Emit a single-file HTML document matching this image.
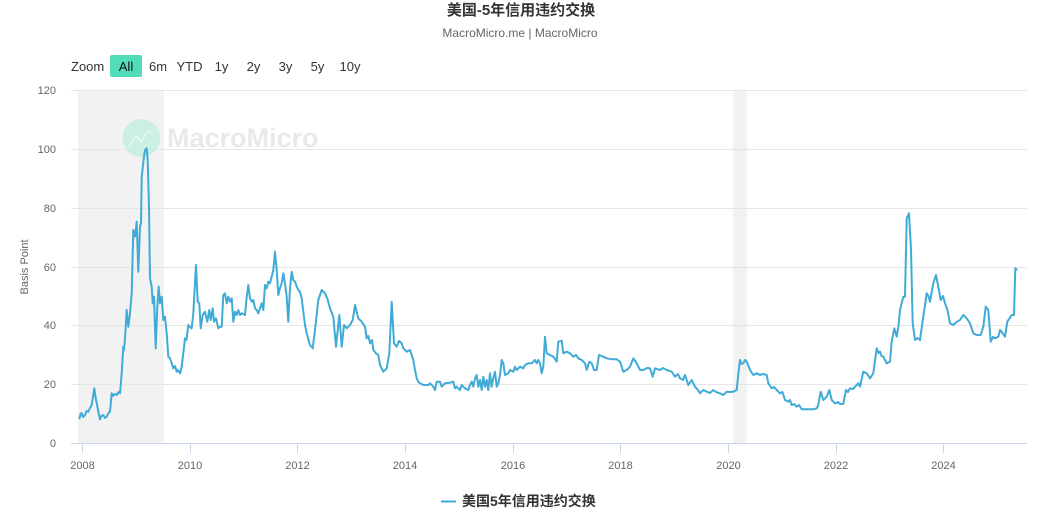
<!DOCTYPE html>
<html><head><meta charset="utf-8">
<style>
html,body{margin:0;padding:0;background:#fff;}
body{width:1042px;height:522px;overflow:hidden;position:relative;font-family:"Liberation Sans","Noto Sans CJK SC",sans-serif;}
svg{position:absolute;left:0;top:0;}
</style></head>
<body>
<svg width="1042" height="522" viewBox="0 0 1042 522" xmlns="http://www.w3.org/2000/svg">
<text x="521" y="15" text-anchor="middle" font-family="Liberation Sans, Noto Sans CJK SC, sans-serif" font-size="15" font-weight="bold" fill="#333">美国-5年信用违约交换</text>
<text x="520" y="37" text-anchor="middle" font-family="Liberation Sans, sans-serif" font-size="12" fill="#666">MacroMicro.me | MacroMicro</text>

<!-- zoom buttons -->
<g font-family="Liberation Sans, sans-serif" font-size="13" fill="#333">
<text x="71" y="71">Zoom</text>
<rect x="110" y="55" width="32" height="22" rx="2" fill="#52dcb9"/>
<text x="126" y="71" text-anchor="middle" fill="#111">All</text>
<text x="158" y="71" text-anchor="middle">6m</text>
<text x="189.5" y="71" text-anchor="middle">YTD</text>
<text x="221.5" y="71" text-anchor="middle">1y</text>
<text x="253.5" y="71" text-anchor="middle">2y</text>
<text x="285.5" y="71" text-anchor="middle">3y</text>
<text x="317.5" y="71" text-anchor="middle">5y</text>
<text x="350" y="71" text-anchor="middle">10y</text>
</g>

<!-- bands -->
<rect x="78" y="90" width="86" height="353" fill="#f2f2f2"/>
<rect x="733" y="90" width="14" height="353" fill="#f2f2f2"/>

<!-- gridlines -->
<g stroke="#e6e6e6" stroke-width="1">
<line x1="71" x2="1027" y1="90.5" y2="90.5"/>
<line x1="71" x2="1027" y1="149.5" y2="149.5"/>
<line x1="71" x2="1027" y1="208.5" y2="208.5"/>
<line x1="71" x2="1027" y1="267.5" y2="267.5"/>
<line x1="71" x2="1027" y1="325.5" y2="325.5"/>
<line x1="71" x2="1027" y1="384.5" y2="384.5"/>
</g>
<line x1="71" x2="1027" y1="443.5" y2="443.5" stroke="#ccd6eb" stroke-width="1"/>
<g stroke="#ccd6eb" stroke-width="1">
<line x1="82.5" x2="82.5" y1="443" y2="453"/>
<line x1="190.5" x2="190.5" y1="443" y2="453"/>
<line x1="297.5" x2="297.5" y1="443" y2="453"/>
<line x1="405.5" x2="405.5" y1="443" y2="453"/>
<line x1="513.5" x2="513.5" y1="443" y2="453"/>
<line x1="620.5" x2="620.5" y1="443" y2="453"/>
<line x1="728.5" x2="728.5" y1="443" y2="453"/>
<line x1="836.5" x2="836.5" y1="443" y2="453"/>
<line x1="943.5" x2="943.5" y1="443" y2="453"/>
</g>

<!-- watermark -->
<circle cx="141.5" cy="138" r="19" fill="#c6eedf" opacity="0.9"/>
<polyline points="129,146 136,136 141,142 148,131 153,134" fill="none" stroke="#e9f8f2" stroke-width="1.5"/>
<text x="167" y="147" font-family="Liberation Sans, sans-serif" font-size="27" font-weight="bold" fill="#e9e9e9">MacroMicro</text>

<!-- y labels -->
<g font-family="Liberation Sans, sans-serif" font-size="11" fill="#666" text-anchor="end">
<text x="56" y="94">120</text>
<text x="56" y="153">100</text>
<text x="56" y="212">80</text>
<text x="56" y="271">60</text>
<text x="56" y="329">40</text>
<text x="56" y="388">20</text>
<text x="56" y="447">0</text>
</g>
<text transform="translate(28,267) rotate(-90)" text-anchor="middle" font-family="Liberation Sans, sans-serif" font-size="11" fill="#666">Basis Point</text>

<!-- x labels -->
<g font-family="Liberation Sans, sans-serif" font-size="11" fill="#666" text-anchor="middle">
<text x="82.5" y="469">2008</text>
<text x="190" y="469">2010</text>
<text x="297.5" y="469">2012</text>
<text x="405" y="469">2014</text>
<text x="513" y="469">2016</text>
<text x="620.5" y="469">2018</text>
<text x="728.5" y="469">2020</text>
<text x="836" y="469">2022</text>
<text x="943.5" y="469">2024</text>
</g>

<!-- series -->
<polyline fill="none" stroke="#3fabd6" stroke-width="2" stroke-linejoin="round" points="
79.3,419.3 80.5,414 81.7,413 83,417 85,415 86.5,411 88.3,411.7 90,408 91.7,405 93,397 94.3,388.3 95.5,397 96.7,403 98,410 100,419.3 101.5,416 103.3,415 105,418 106.7,416.7 108.5,413 110,411.7 111.7,393.3 113,396 114.5,394 116.7,395 118.5,392 120,393.3 121.7,373.3 123.3,346.7 124,350 125,338.3 126.7,310 128.3,326.7 130,313.3 131.7,293.3 133.3,230 135,236.7 136.7,221.7 138.3,271.7 140,226.7 141,223.3 141.7,176.7 144,156.7 145,150 146.7,148.3 147.7,160 149,206.7 150,278.3 151.7,286.7 152.7,303.3 154,296.7 155.7,348.3 157.3,306.7 158.7,286.7 160,303.3 161.7,296.7 163.3,320 165,316.7 166.7,333.3 168.3,356.7 170,358 171.7,363.3 173.3,368.3 175,366 176.7,371.7 178,370 180,373.3 181.5,368 183.3,353.3 185,338.3 186.5,340 188.3,325 190,327 191.7,328.3 193.3,313.3 196,265 197.7,301.7 199.3,303.3 200.7,328.3 202.7,315 205,311.7 207.3,321.7 209.3,310 210.7,320 212.7,308.3 214,321.7 216,318.3 218.3,328.3 220,326.7 221.7,326.7 223.3,295 225,293.3 226.7,303.3 228.3,296.7 230,301.7 231.7,298.3 233.3,321.7 235,311.7 236.7,315 238.3,310 240,315 241.7,313.3 245,315 246.7,296.7 248.3,285 250,298.3 251.7,301.7 253.3,300 255,308.3 256.7,310 258.3,313.3 260,308.3 261.7,303.3 263.3,310 265,285 266.7,288.3 268.3,281.7 270,283.3 271.7,276.7 273.3,270 275,251.7 276.7,270 278.3,295 280,288.3 281.7,283.3 283.3,273.3 285,283.3 286.7,296.7 288.3,321.7 290,288.3 291.7,271.7 293.3,280 295,281.7 296.7,286.7 298.3,290 300,291.7 301.7,298.3 303.3,311.7 305,325 306.7,333.3 308.5,340 310,345 312.7,348.3 315,330 318.3,300 321.7,290 325,293.3 327.3,298.3 330,308.3 333.3,316.7 336,346.7 339.3,315 341.7,346.7 344,325 346.7,328.3 350,325 352.7,320 355,305 358.3,318.3 361.7,321.7 365,326.7 366.7,338.3 368.5,336 370,343.3 372,340 373.3,350 376,353.3 378.3,355 380,365 383.3,371.7 386.7,368.3 389.3,353.3 391.7,301.7 394,343.3 396.7,346.7 399,341 401.7,343.3 403.3,348.3 406.7,351.7 410,350 411.7,355 413.3,360 415,370 416.7,378.3 418.5,382 420,383.3 423.3,385 428.3,385 430,383.3 433.3,386.7 435,390 436.7,381.7 440,381.7 441.7,386.7 445,383.3 450,382.7 453.3,381.7 455,388.3 456.7,386.7 460,390 461.7,385 465,388.3 468.3,390 470,385 471.7,381.7 473.3,386.7 475,378.3 476.7,375 478.3,386.7 480,380 481.7,390 483.3,376.7 485,386.7 486.7,380 488.3,390 490,373.3 491.7,386.7 493.3,378.3 495,371.7 496.7,386.7 498.3,383.3 500,375 501.7,360 503.3,363.3 505,375 508.3,373.3 510,370 513.3,371.7 515,366.7 516.7,370 520,366.7 523.3,368.3 525,365 528.3,363.3 531.7,363.3 535,360 536.7,363.3 538.3,360 540,363.3 541.7,373.3 543.3,366.7 545,336.7 546.7,353.3 550,355 553.3,356.7 556.7,361.7 558.3,341.7 561.7,340.7 563.3,353.3 566.7,351.7 570,353.3 573.3,356.7 576,355 578.3,358.3 581.7,360 585,363.3 586.7,370 589.3,361.7 591.7,363.3 594,370 596.7,370 599,355 603.3,356.7 606.7,358.3 611.7,359.3 616.7,359.3 620,361.7 623.3,371.7 626.7,370 630,366.7 633.3,358.3 636.7,363.3 640,370 643.3,370 647,368 650,368.3 652.7,376.7 655,368.3 660,370 663,368 666.7,370 671.7,371.7 675,376.7 678,374 680,378.3 683,380 685,375 688.3,385 691.7,380 695,386.7 698,390 700,393.3 703.3,390 706.7,391.7 710,393 713.3,390 716,392 720,393.3 723.3,395 726.7,391.7 730,392 733.3,391.7 736.7,390 738.5,372 740,360 741.5,364 743.3,363.3 745,360 746.7,361.7 748.5,366 750,370 753.3,375 756.7,373.3 760,375 763,374 766.7,375 768.3,383.3 771.7,388.3 774,387 776.7,390 780,393.3 782.5,392 785,400 788.3,401.7 790,400 791.7,405 794,404 796.7,406.7 799,405 801.7,409.3 806.7,409.3 813.3,409.3 816.7,408.3 818.3,405 820.7,391.7 823.3,400 826.7,396.7 829.3,390 831.7,400 835,403.3 838,402 840,404 843.3,404 846,390 848,392 850,388.3 853,389 855,386.7 858.3,383.3 860,386.7 863.3,371.7 866.7,373.3 868.5,376 870,378.3 873.3,373.3 876.7,348.3 878.5,353 880,351.7 881.5,356 883.3,356.7 886.7,363.3 890,361.7 891.7,341.7 894.3,328.3 896.7,336.7 898.5,326 900,310 903.3,296.7 905,296.7 906.7,218.3 909,213.3 911,250 912.7,323.3 915,340 917.5,338 920,340 923.3,316.7 926.7,293.3 928.5,296 930,301.7 933.3,283.3 936,275 938.3,286.7 940.7,300 943,296 945,303.3 947.5,310 950,323.3 953.3,325 956.5,322 960,320 963.3,315 966.7,318.3 970,323.3 973.3,333.3 976.7,335 980.7,335 983.3,326.7 985.7,306.7 988.3,310 990.7,341.7 993,337 995,338.3 998.3,336.7 1000,330 1002.7,333.3 1005,336.7 1007.3,321.7 1011.7,315 1014,315 1015.3,268.3 1017.3,270"/>

<!-- legend -->
<line x1="441" x2="456" y1="501.5" y2="501.5" stroke="#3fabd6" stroke-width="2"/>
<text x="462" y="506" font-family="Liberation Sans, Noto Sans CJK SC, sans-serif" font-size="14" font-weight="bold" fill="#333">美国5年信用违约交换</text>
</svg>
</body></html>
